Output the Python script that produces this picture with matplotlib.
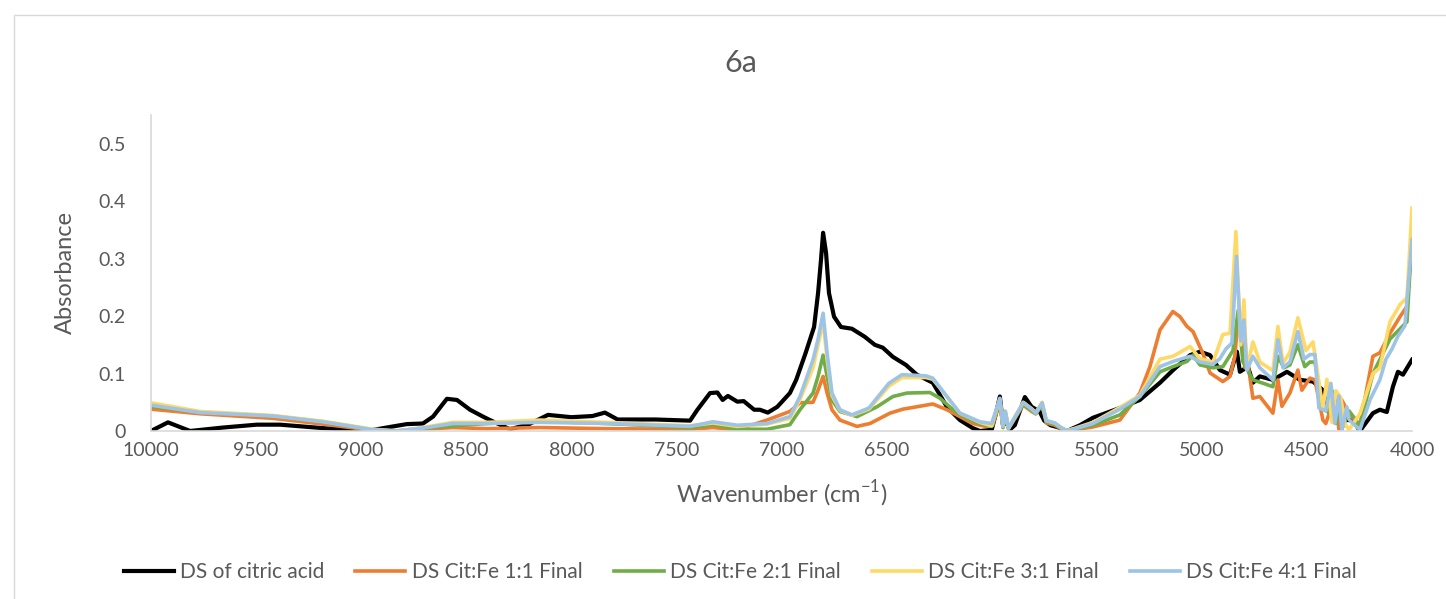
import matplotlib
matplotlib.use("Agg")
import matplotlib.pyplot as plt
from matplotlib.patches import Rectangle

plt.rcParams['font.family'] = ['Lato', 'DejaVu Sans']

# wavenumber (cm-1) / absorbance pairs for each spectrum
wn_cit = [10000, 9919, 9814, 9657, 9496, 9386, 9182, 8972, 8863, 8782, 8706, 8658, 8592, 8544,
          8482, 8420, 8387, 8292, 8200, 8111, 8000, 7900, 7840, 7780, 7600, 7435, 7400, 7340,
          7305, 7280, 7255, 7210, 7180, 7130, 7103, 7065, 7020, 6960, 6930, 6885, 6845, 6826,
          6812, 6802, 6788, 6774, 6750, 6717, 6665, 6604, 6556, 6518, 6470, 6408, 6356, 6280,
          6213, 6151, 6090, 6056, 6000, 5980, 5961, 5946, 5935, 5915, 5890, 5842, 5810, 5772,
          5750, 5720, 5680, 5642, 5580, 5518, 5390, 5295, 5199, 5137, 5056, 5009, 4961, 4914,
          4866, 4833, 4819, 4781, 4757, 4724, 4662, 4595, 4533, 4471, 4424, 4405, 4377, 4330,
          4282, 4248, 4186, 4153, 4120, 4091, 4067, 4043, 4000]
abs_cit = [0.000, 0.015, 0.000, 0.006, 0.011, 0.011, 0.005, 0.000, 0.007, 0.012, 0.013, 0.025,
           0.056, 0.054, 0.037, 0.025, 0.019, 0.003, 0.012, 0.028, 0.024, 0.026, 0.032, 0.020,
           0.020, 0.018, 0.037, 0.066, 0.067, 0.054, 0.061, 0.051, 0.052, 0.037, 0.037, 0.032,
           0.042, 0.066, 0.089, 0.136, 0.181, 0.240, 0.298, 0.345, 0.310, 0.240, 0.199, 0.181,
           0.178, 0.164, 0.150, 0.145, 0.129, 0.115, 0.098, 0.084, 0.042, 0.019, 0.005, 0.000,
           0.002, 0.030, 0.060, 0.010, 0.020, 0.002, 0.010, 0.059, 0.042, 0.034, 0.018, 0.010,
           0.006, 0.000, 0.010, 0.023, 0.040, 0.054, 0.084, 0.106, 0.132, 0.138, 0.132, 0.106,
           0.098, 0.138, 0.103, 0.112, 0.084, 0.095, 0.089, 0.103, 0.089, 0.086, 0.071, 0.037,
           0.025, 0.019, 0.019, 0.000, 0.031, 0.037, 0.033, 0.077, 0.103, 0.098, 0.124]

wn_fe11 = [10000, 9767, 9420, 9182, 8944, 8830, 8706, 8563, 8401, 8149, 7830, 7435, 7326,
           7210, 7069, 6960, 6912, 6850, 6826, 6802, 6783, 6760, 6722, 6641, 6579, 6484,
           6422, 6280, 6213, 6151, 6090, 6030, 5995, 5961, 5946, 5935, 5920, 5850, 5810,
           5790, 5760, 5740, 5700, 5670, 5642, 5610, 5518, 5390, 5295, 5247, 5199, 5138,
           5104, 5071, 5042, 4995, 4961, 4900, 4866, 4843, 4827, 4809, 4795, 4781, 4757,
           4724, 4662, 4638, 4619, 4581, 4543, 4524, 4486, 4462, 4424, 4410, 4395, 4362,
           4348, 4334, 4300, 4248, 4186, 4153, 4105, 4057, 4024, 4000]
abs_fe11 = [0.038, 0.030, 0.022, 0.012, 0.001, 0.000, 0.003, 0.006, 0.004, 0.006, 0.004,
            0.003, 0.006, 0.002, 0.019, 0.034, 0.049, 0.050, 0.071, 0.095, 0.066, 0.037,
            0.019, 0.008, 0.013, 0.031, 0.038, 0.047, 0.037, 0.025, 0.013, 0.008, 0.010,
            0.052, 0.006, 0.030, 0.004, 0.045, 0.034, 0.030, 0.045, 0.014, 0.010, 0.004,
            0.000, 0.002, 0.007, 0.019, 0.066, 0.112, 0.176, 0.208, 0.199, 0.182, 0.173,
            0.135, 0.101, 0.086, 0.095, 0.130, 0.199, 0.153, 0.110, 0.118, 0.057, 0.060,
            0.031, 0.089, 0.043, 0.066, 0.106, 0.071, 0.092, 0.089, 0.019, 0.013, 0.030,
            0.054, 0.003, 0.054, 0.030, 0.010, 0.130, 0.136, 0.170, 0.199, 0.217, 0.338]

wn_fe21 = [10000, 9767, 9420, 9182, 8944, 8830, 8706, 8563, 8401, 8149, 7830, 7435, 7326,
           7210, 7069, 6960, 6912, 6850, 6826, 6802, 6783, 6760, 6722, 6641, 6546, 6470,
           6403, 6294, 6246, 6184, 6118, 6056, 6000, 5961, 5946, 5935, 5920, 5850, 5810,
           5790, 5760, 5740, 5700, 5670, 5642, 5610, 5518, 5390, 5295, 5199, 5137, 5071,
           5042, 5009, 4947, 4900, 4852, 4827, 4805, 4757, 4700, 4662, 4638, 4609, 4581,
           4543, 4510, 4486, 4462, 4424, 4400, 4380, 4362, 4348, 4334, 4300, 4248, 4186,
           4105, 4024, 4000]
abs_fe21 = [0.043, 0.033, 0.026, 0.016, 0.002, 0.000, 0.005, 0.009, 0.013, 0.017, 0.013,
            0.006, 0.011, 0.003, 0.003, 0.011, 0.037, 0.066, 0.095, 0.132, 0.095, 0.054,
            0.034, 0.025, 0.042, 0.060, 0.066, 0.067, 0.057, 0.037, 0.022, 0.013, 0.008,
            0.053, 0.006, 0.032, 0.004, 0.047, 0.036, 0.030, 0.047, 0.016, 0.012, 0.005,
            0.000, 0.003, 0.010, 0.028, 0.060, 0.103, 0.112, 0.121, 0.132, 0.115, 0.110,
            0.112, 0.140, 0.210, 0.121, 0.089, 0.082, 0.077, 0.130, 0.110, 0.115, 0.150,
            0.112, 0.120, 0.120, 0.040, 0.033, 0.070, 0.013, 0.050, 0.003, 0.035, 0.010,
            0.100, 0.160, 0.190, 0.340]

wn_fe31 = [10000, 9767, 9420, 9182, 8944, 8830, 8706, 8563, 8401, 8149, 7830, 7435, 7326,
           7210, 7069, 6960, 6912, 6850, 6826, 6802, 6783, 6760, 6722, 6665, 6584, 6489,
           6427, 6313, 6280, 6213, 6151, 6056, 6000, 5961, 5946, 5935, 5920, 5850, 5810,
           5790, 5760, 5740, 5700, 5670, 5642, 5610, 5518, 5390, 5295, 5199, 5137, 5056,
           5009, 4947, 4900, 4866, 4838, 4815, 4800, 4786, 4757, 4724, 4662, 4638, 4614,
           4581, 4543, 4505, 4471, 4424, 4405, 4381, 4362, 4339, 4320, 4300, 4248, 4186,
           4153, 4105, 4057, 4024, 4000]
abs_fe31 = [0.049, 0.034, 0.027, 0.017, 0.003, 0.000, 0.006, 0.015, 0.015, 0.019, 0.015,
            0.009, 0.014, 0.008, 0.012, 0.022, 0.055, 0.110, 0.150, 0.190, 0.125, 0.062,
            0.036, 0.027, 0.038, 0.078, 0.093, 0.093, 0.090, 0.060, 0.031, 0.015, 0.009,
            0.056, 0.008, 0.035, 0.005, 0.050, 0.039, 0.032, 0.050, 0.018, 0.014, 0.006,
            0.001, 0.004, 0.015, 0.041, 0.062, 0.125, 0.130, 0.147, 0.126, 0.120, 0.168,
            0.170, 0.347, 0.150, 0.228, 0.108, 0.155, 0.120, 0.105, 0.182, 0.118, 0.137,
            0.197, 0.140, 0.155, 0.038, 0.090, 0.015, 0.070, 0.058, 0.013, 0.002, 0.030,
            0.100, 0.110, 0.190, 0.220, 0.232, 0.388]

wn_fe41 = [10000, 9767, 9420, 9182, 8944, 8830, 8706, 8563, 8401, 8149, 7830, 7435, 7326,
           7210, 7069, 6960, 6912, 6850, 6826, 6802, 6783, 6760, 6722, 6665, 6584, 6489,
           6427, 6313, 6280, 6213, 6151, 6056, 6000, 5961, 5946, 5935, 5920, 5850, 5810,
           5790, 5760, 5740, 5700, 5670, 5642, 5610, 5518, 5390, 5295, 5199, 5137, 5056,
           5009, 4947, 4914, 4885, 4857, 4835, 4815, 4800, 4786, 4757, 4724, 4662, 4638,
           4614, 4581, 4543, 4514, 4486, 4462, 4443, 4410, 4386, 4367, 4348, 4334, 4310,
           4300, 4248, 4200, 4153, 4124, 4095, 4067, 4034, 4000]
abs_fe41 = [0.045, 0.032, 0.026, 0.016, 0.002, 0.000, 0.005, 0.013, 0.013, 0.015, 0.013,
            0.008, 0.016, 0.010, 0.013, 0.025, 0.060, 0.124, 0.160, 0.205, 0.136, 0.066,
            0.037, 0.028, 0.040, 0.083, 0.098, 0.096, 0.092, 0.060, 0.031, 0.016, 0.013,
            0.057, 0.008, 0.034, 0.005, 0.049, 0.038, 0.031, 0.049, 0.018, 0.014, 0.006,
            0.000, 0.003, 0.013, 0.038, 0.060, 0.112, 0.121, 0.130, 0.120, 0.116, 0.126,
            0.143, 0.153, 0.304, 0.157, 0.193, 0.106, 0.130, 0.110, 0.089, 0.159, 0.110,
            0.120, 0.173, 0.125, 0.133, 0.133, 0.040, 0.035, 0.083, 0.013, 0.061, 0.002,
            0.042, 0.020, 0.002, 0.054, 0.089, 0.125, 0.143, 0.165, 0.183, 0.333]

labels = ['DS of citric acid', 'DS Cit:Fe 1:1 Final', 'DS Cit:Fe 2:1 Final',
          'DS Cit:Fe 3:1 Final', 'DS Cit:Fe 4:1 Final']
colors = ['#000000', '#ED7D31', '#70AD47', '#FFD966', '#9DC3E6']
series = [(wn_cit, abs_cit), (wn_fe11, abs_fe11), (wn_fe21, abs_fe21),
          (wn_fe31, abs_fe31), (wn_fe41, abs_fe41)]

fig = plt.figure(figsize=(14.46, 5.99), dpi=100)
ax = fig.add_axes([0.1044, 0.2805, 0.8721, 0.5275])

for (x, y), lab, c in zip(series, labels, colors):
    lw = 3.0 if c == '#000000' else 2.6
    ax.plot(x, y, color=c, lw=lw, label=lab, solid_joinstyle='round')

ax.set_xlim(10000, 4000)
ax.set_ylim(0, 0.55)
ax.set_xticks(range(10000, 3999, -500))
ax.set_yticks([0, 0.1, 0.2, 0.3, 0.4, 0.5])
ax.set_yticklabels(['0', '0.1', '0.2', '0.3', '0.4', '0.5'])
ax.tick_params(axis='y', length=0, labelsize=14, labelcolor='#595959', pad=18)
ax.tick_params(axis='x', length=0, labelsize=14, labelcolor='#595959', pad=8)

for s in ['top', 'right']:
    ax.spines[s].set_visible(False)
ax.spines['left'].set_color('#D9D9D9')
ax.spines['bottom'].set_color('#D9D9D9')
ax.spines['left'].set_linewidth(1.2)
ax.spines['bottom'].set_linewidth(1.2)

ax.set_xlabel('Wavenumber (cm$^{\\mathregular{-1}}$)', fontsize=17, color='#595959',
              labelpad=14)
ax.set_ylabel('Absorbance', fontsize=17, color='#595959', labelpad=16)
fig.text(0.512, 0.895, '6a', fontsize=22, color='#595959', ha='center', va='center')

fig.legend(loc='center', bbox_to_anchor=(0.512, 0.045), ncol=5, frameon=False,
           fontsize=15, handlelength=2.4, handletextpad=0.3, columnspacing=1.5,
           labelcolor='#595959')

# chart area border
fig.patches.append(Rectangle((14 / 1446, -0.1), 1.2, 1 - 15 / 599 + 0.1,
                             transform=fig.transFigure, fill=False,
                             edgecolor='#D9D9D9', lw=1))

fig.savefig('out.png', dpi=100)
